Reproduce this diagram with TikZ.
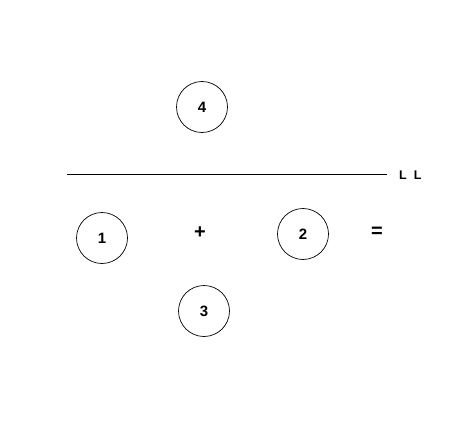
\documentclass[tikz,border=0pt]{standalone}
\usepackage{fontspec}
\setmainfont{Liberation Sans}
\begin{document}
\begin{tikzpicture}[x=1pt,y=-1pt,
  circ/.style={draw,circle,minimum size=51pt,inner sep=0pt,line width=0.7pt,font=\fontsize{15}{17}\selectfont\bfseries},
  sym/.style={inner sep=0pt,font=\fontsize{20}{22}\selectfont\bfseries},
  lbl/.style={inner sep=0pt,font=\fontsize{12.5}{14}\selectfont\bfseries}]
\useasboundingbox (0,0) rectangle (476,425);
\node[circ] (c4) at (202,107) {4};
\node[circ] (c1) at (102,238) {1};
\node[circ] (c2) at (303,234) {2};
\node[circ] (c3) at (204,311) {3};
\node[sym] (plus) at (200,233) {+};
\node[sym] (eq) at (377,232) {=};
\coordinate (la) at (67,174);
\coordinate (lb) at (387,174);
\draw[line width=0.8pt] (la) -- (lb);
\node[lbl,anchor=west] (ll) at (399,175) {L\ \ L};
\end{tikzpicture}
\end{document}
